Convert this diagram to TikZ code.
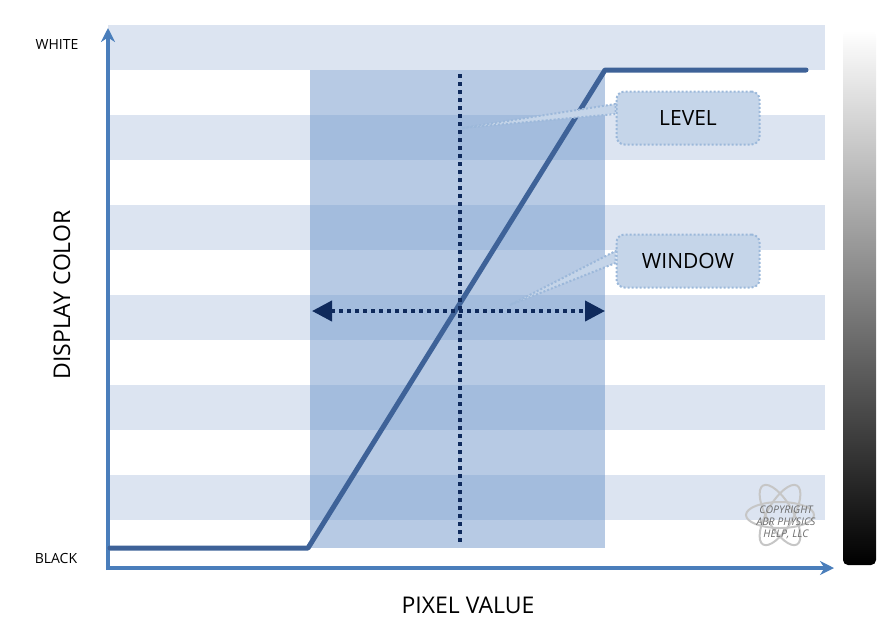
\documentclass[tikz,border=0pt]{standalone}
\usepackage{fontspec}
\setmainfont{Open Sans}
\usetikzlibrary{arrows.meta}
\definecolor{stripe}{HTML}{DCE4F1}
\definecolor{win}{HTML}{B7CAE4}
\definecolor{winstripe}{HTML}{A3BCDD}
\definecolor{axis}{HTML}{4A7EBB}
\definecolor{curve}{HTML}{3E6298}
\definecolor{dark}{HTML}{0F2A5C}
\tikzset{
  lbl/.style={font=\fontsize{14}{16}\selectfont},
  big/.style={font=\fontsize{23}{26}\selectfont},
  dots/.style={line width=4pt,dash pattern=on 4pt off 4pt},
  callout/.style={draw=axis!55,line width=2pt,dash pattern=on 2pt off 2pt,fill=win!80,rounded corners=8pt,minimum width=143pt,minimum height=53pt,font=\fontsize{21}{24}\selectfont,inner sep=0pt},
}
\begin{document}
\begin{tikzpicture}[x=1pt,y=-1pt]
\useasboundingbox (0,0) rectangle (893,641);
\fill[stripe] (108,25) rectangle (825,70);
\foreach \y in {115,205,295,385,475}{\fill[stripe] (108,\y) rectangle (825,\y+45);}
\fill[win] (310,70) rectangle (605,548);
\foreach \y in {115,205,295,385,475}{\fill[winstripe] (310,\y) rectangle (605,\y+45);}
\shade[top color=white,bottom color=black,rounded corners=5pt] (843,30) rectangle (876,565);
\draw[axis,line width=4pt,-{Stealth[length=14pt,width=14pt]}] (108,570) -- (108,28);
\draw[axis,line width=4pt,-{Stealth[length=14pt,width=14pt]}] (106,568) -- (834,568);
\draw[curve,line width=5pt,line join=round,line cap=round] (110,548) -- (308,548) -- (605,70) -- (806,70);
\coordinate (vt) at (460,74); \coordinate (vb) at (460,545);
\draw[dark,dots] (vt) -- (vb);
\coordinate (hl) at (312,311); \coordinate (hr) at (605,311);
\draw[dark,dots,{Triangle[length=20pt,width=20pt]}-{Triangle[length=20pt,width=20pt]}] (hl) -- (hr);
\node[callout] (level) at (688,118) {LEVEL};
\node[callout] (window) at (688,261) {WINDOW};
\coordinate (lp) at (462,128);
\coordinate (wp) at (510,305);
\draw[axis!55,line width=2pt,dash pattern=on 2pt off 2pt,fill=win!80] (lp) -- ([yshift=4pt]level.west) -- ([yshift=14pt]level.west) -- cycle;
\draw[axis!55,line width=2pt,dash pattern=on 2pt off 2pt,fill=win!80] (wp) -- ([yshift=-2pt]window.west) -- ([yshift=10pt]window.west) -- cycle;
\node[lbl] (white) at (57,44) {WHITE};
\node[lbl] (black) at (56,558) {BLACK};
\node[big,rotate=90] (dc) at (62,295) {DISPLAY COLOR};
\node[big] (pv) at (468,605) {PIXEL VALUE};
\draw[gray!45,line width=2pt] (780,515) ellipse (34pt and 13pt);
\draw[gray!45,line width=2pt,rotate around={60:(780,515)}] (780,515) ellipse (34pt and 13pt);
\draw[gray!45,line width=2pt,rotate around={-60:(780,515)}] (780,515) ellipse (34pt and 13pt);
\node[font=\itshape\fontsize{10.5}{12}\selectfont,text=gray!85!black,align=center] (copy) at (786,522) {COPYRIGHT\\ABR PHYSICS\\HELP, LLC};
\end{tikzpicture}
\end{document}
